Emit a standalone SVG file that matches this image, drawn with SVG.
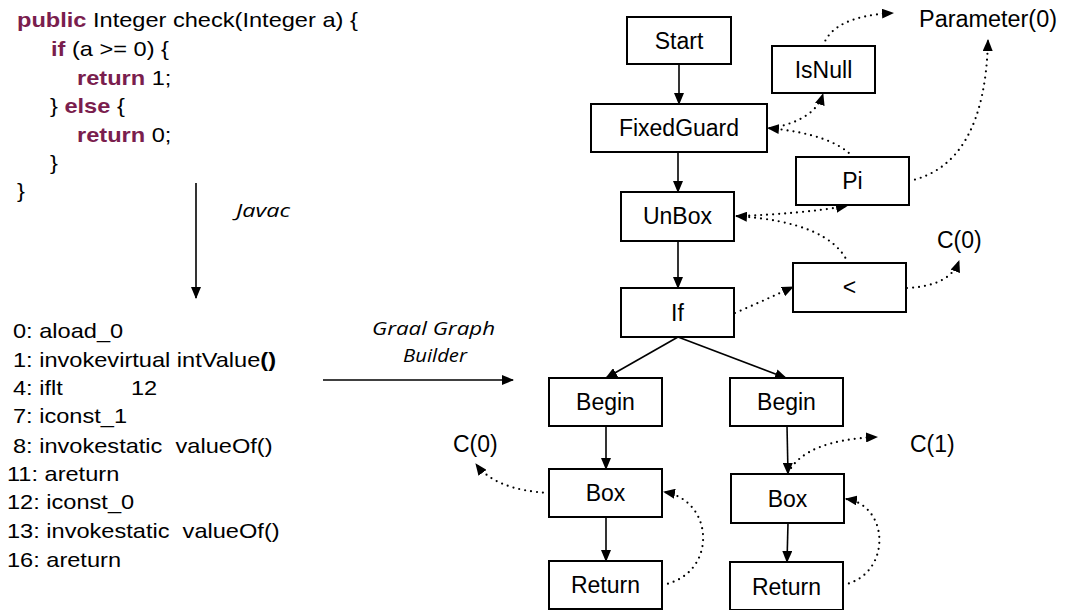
<svg xmlns="http://www.w3.org/2000/svg" width="1066" height="610" viewBox="0 0 1066 610">
<style>
  .code { font-family: "Liberation Sans", Arial, sans-serif; font-size: 20px; fill: #000; white-space: pre; }
  .kw { font-weight: bold; fill: #7a1e4e; }
  .lbl { font-family: "Open Sans", "Liberation Sans", sans-serif; font-style: italic; font-size: 18px; fill: #000; }
  .node rect { fill: #fff; stroke: #000; stroke-width: 2; }
  .node text, .val { font-family: "Liberation Sans", Arial, sans-serif; font-size: 23px; fill: #000; text-anchor: middle; }
  .val { text-anchor: start; }
  .solid { fill: none; stroke: #000; stroke-width: 1.6; marker-end: url(#ah); }
  .dot { fill: none; stroke: #000; stroke-width: 2.2; stroke-dasharray: 0 6; stroke-linecap: round; marker-end: url(#ah); }
</style>
<defs>
  <marker id="ah" viewBox="0 0 12 10" refX="11" refY="5" markerWidth="12" markerHeight="10" markerUnits="userSpaceOnUse" orient="auto">
    <path d="M0,0 L12,5 L0,10 z" fill="#000" stroke="none"/>
  </marker>
</defs>

<g id="source-code" transform="scale(1.18 1)">
  <text class="code" x="14.4" y="27"><tspan class="kw">public</tspan> Integer check(Integer a) {</text>
  <text class="code" x="43.2" y="56"><tspan class="kw">if</tspan> (a &gt;= 0) {</text>
  <text class="code" x="65.3" y="85"><tspan class="kw">return</tspan> 1;</text>
  <text class="code" x="42.4" y="113">} <tspan class="kw">else</tspan> {</text>
  <text class="code" x="65.3" y="142"><tspan class="kw">return</tspan> 0;</text>
  <text class="code" x="42.4" y="170">}</text>
  <text class="code" x="14.4" y="198">}</text>
</g>

<g id="bytecode" transform="scale(1.18 1)">
  <text class="code" x="11" y="338">0: aload_0</text>
  <text class="code" x="11" y="367">1: invokevirtual intValue<tspan font-weight="bold">()</tspan></text>
  <text class="code" x="11" y="395">4: iflt</text>
  <text class="code" x="111" y="395">12</text>
  <text class="code" x="11" y="423">7: iconst_1</text>
  <text class="code" x="11" y="453">8: invokestatic  valueOf()</text>
  <text class="code" x="5.9" y="481">11: areturn</text>
  <text class="code" x="5.9" y="509">12: iconst_0</text>
  <text class="code" x="5.9" y="538">13: invokestatic  valueOf()</text>
  <text class="code" x="5.9" y="567">16: areturn</text>
</g>

<g id="transforms">
  <line class="solid" x1="196" y1="183" x2="196" y2="298"/>
  <text class="lbl" x="236" y="217" textLength="54" lengthAdjust="spacingAndGlyphs">Javac</text>
  <line class="solid" x1="323" y1="380" x2="513" y2="380"/>
  <text class="lbl" x="372" y="335" textLength="123" lengthAdjust="spacingAndGlyphs">Graal Graph</text>
  <text class="lbl" x="403" y="362" textLength="64" lengthAdjust="spacingAndGlyphs">Builder</text>
</g>

<g id="connectors">
  <line class="solid" x1="679" y1="64" x2="679" y2="104"/>
  <line class="solid" x1="678" y1="152" x2="678" y2="192"/>
  <line class="solid" x1="678" y1="241" x2="678" y2="288"/>
  <line class="solid" x1="678" y1="337" x2="606" y2="378"/>
  <line class="solid" x1="678" y1="337" x2="786" y2="378"/>
  <line class="solid" x1="606" y1="426" x2="606" y2="469"/>
  <line class="solid" x1="606" y1="517" x2="606" y2="561"/>
  <line class="solid" x1="787" y1="426" x2="788" y2="474"/>
  <line class="solid" x1="788" y1="523" x2="787" y2="562"/>

  <path class="dot" d="M823,46 Q833,16 893,13"/>
  <path class="dot" d="M772,128 Q815,120 823,94"/>
  <path class="dot" d="M853,157 Q832,134 768,128"/>
  <path class="dot" d="M909,181 Q985,165 988,40"/>
  <path class="dot" d="M737,216 Q800,214 847,206"/>
  <path class="dot" d="M848,263 Q830,222 736,216"/>
  <path class="dot" d="M735,313 Q765,300 793,287"/>
  <path class="dot" d="M907,288 Q950,286 959,261"/>
  <path class="dot" d="M549,493 Q495,490 476,464"/>
  <path class="dot" d="M662,585 C718,575 715,500 664,492"/>
  <path class="dot" d="M788,473 Q805,440 877,437"/>
  <path class="dot" d="M843,585 C892,575 890,505 846,499"/>
</g>

<g id="node-start" class="node"><rect x="627" y="17" width="104" height="47"/><text x="679" y="49">Start</text></g>
<g id="node-isnull" class="node"><rect x="772" y="46" width="103" height="47"/><text x="823.5" y="78">IsNull</text></g>
<g id="node-fixedguard" class="node"><rect x="591" y="104" width="176" height="48"/><text x="679" y="136">FixedGuard</text></g>
<g id="node-pi" class="node"><rect x="796" y="157" width="113" height="48"/><text x="852.5" y="189">Pi</text></g>
<g id="node-unbox" class="node"><rect x="621" y="192" width="113" height="49"/><text x="677.5" y="224">UnBox</text></g>
<g id="node-lt" class="node"><rect x="793" y="263" width="113" height="49"/><text x="849.5" y="295">&lt;</text></g>
<g id="node-if" class="node"><rect x="621" y="288" width="113" height="49"/><text x="677.5" y="321">If</text></g>
<g id="node-begin-l" class="node"><rect x="549" y="378" width="113" height="48"/><text x="605.5" y="410">Begin</text></g>
<g id="node-begin-r" class="node"><rect x="730" y="378" width="113" height="48"/><text x="786.5" y="410">Begin</text></g>
<g id="node-box-l" class="node"><rect x="549" y="469" width="113" height="48"/><text x="605.5" y="501">Box</text></g>
<g id="node-box-r" class="node"><rect x="731" y="474" width="113" height="49"/><text x="787.5" y="507">Box</text></g>
<g id="node-return-l" class="node"><rect x="549" y="561" width="113" height="48"/><text x="605.5" y="593">Return</text></g>
<g id="node-return-r" class="node"><rect x="730" y="562" width="113" height="48"/><text x="786.5" y="595">Return</text></g>

<g id="value-labels">
  <text class="val" x="919" y="27" textLength="138" lengthAdjust="spacingAndGlyphs">Parameter(0)</text>
  <text class="val" x="937" y="248">C(0)</text>
  <text class="val" x="453" y="452">C(0)</text>
  <text class="val" x="910" y="452">C(1)</text>
</g>
</svg>
